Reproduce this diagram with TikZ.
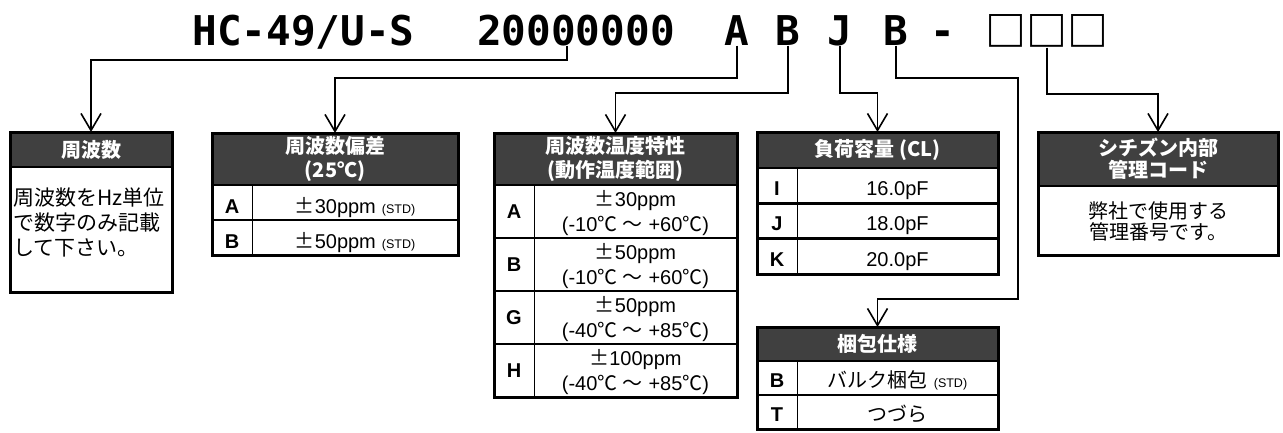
\documentclass[tikz,border=0pt]{standalone}
\usepackage{fontspec}
\setmainfont{Liberation Sans}
\newfontfamily\jp{Noto Sans CJK JP}
\newfontfamily\jpfw{Noto Sans CJK JP}[CharacterWidth=Full]
\newfontfamily\mono{DejaVu Sans Mono}
\usetikzlibrary{arrows.meta}
\definecolor{hdrgray}{RGB}{64,64,64}
\newcommand\myfs[2]{\fontsize{#1}{#2}\selectfont}
\newcommand\mypm{{\jpfw ±}}
\newcommand\mystd{\hspace{6pt}{\myfs{12.5}{13}(STD)}}
\newcommand\degc{{\jpfw ℃}}
\newcommand\wave{{\jpfw ～}}
\begin{document}
\begin{tikzpicture}[x=1pt,y=-1pt,
  frame/.style={draw, line width=3pt, inner sep=0pt, outer sep=0pt, anchor=north west},
  hdr/.style={fill=hdrgray, text=white, inner sep=0pt, outer sep=0pt, anchor=north west,
    font=\jp\bfseries\myfs{20}{24}, align=center},
  sep/.style={line width=2.5pt},
  colsep/.style={line width=1pt},
  letter/.style={font=\bfseries\myfs{20}{24}, inner sep=0pt, anchor=base},
  val/.style={font=\myfs{20}{24}, inner sep=0pt, anchor=base},
  valsm/.style={font=\myfs{20}{22}, inner sep=0pt, anchor=base},
  body/.style={font=\jp\myfs{21}{25}, inner sep=0pt, align=left},
  bodyc/.style={font=\jp\myfs{20}{21}, inner sep=0pt, align=center},
  conn/.style={line width=1.6pt, -{Straight Barb[length=17pt,width=20pt]}},
  ttl/.style={font=\mono\bfseries\myfs{41}{41}, inner sep=0pt, anchor=base}]
\useasboundingbox (0,0) rectangle (1283,432);

% ---------- title ----------
\node[ttl] (t1) at (303.5,45.5) {HC-49/U-S};
\node[ttl] (t2) at (576,45.5) {20000000};
\node[ttl] (tA) at (737,45.5) {A};
\node[ttl] (tB) at (788,45.5) {B};
\node[ttl] (tJ) at (840,45.5) {J};
\node[ttl] (tB2) at (896,45.5) {B};
\node[ttl] (tD) at (943,45.5) {-};
\node[ttl, font=\jp\bfseries\myfs{41}{41}] (tS) at (1047,46.5) {□□□};

% ---------- box 1 ----------
\node[hdr, minimum width=162pt, minimum height=35pt] (h1) at (10,132) {周波数};
\draw[sep] (h1.south west) -- (h1.south east);
\node[body, anchor=west] (x1) at (13,222) {周波数をHz単位\\で数字のみ記載\\して下さい。};
\node[frame, minimum width=162pt, minimum height=160pt] (b1) at (10,132) {};

% ---------- box 2 ----------
\node[hdr, minimum width=246pt, minimum height=52pt] (h2) at (212,133) {周波数偏差\\(25℃)};
\draw[sep] (h2.south west) -- (h2.south east);
\draw[sep] (212,220) -- (458,220);
\draw[colsep] (252,185) -- (252,255);
\node[letter] (l2a) at (232,213) {A};
\node[val] (v2a) at (355,213) {\mypm 30ppm\mystd};
\node[letter] (l2b) at (232,248) {B};
\node[val] (v2b) at (355,248) {\mypm 50ppm\mystd};
\node[frame, minimum width=246pt, minimum height=122pt] (b2) at (212,133) {};

% ---------- box 3 ----------
\node[hdr, minimum width=243pt, minimum height=52pt] (h3) at (494,133) {周波数温度特性\\(動作温度範囲)};
\draw[sep] (h3.south west) -- (h3.south east);
\draw[sep] (494,238) -- (737,238);
\draw[sep] (494,291) -- (737,291);
\draw[sep] (494,344) -- (737,344);
\draw[colsep] (534,185) -- (534,397);
\node[letter] (l3a) at (514,218) {A};
\node[val] (v3a) at (635.5,206) {\mypm 30ppm};
\node[valsm] (w3a) at (635.5,231) {(-10\degc{} \wave{} +60\degc)};
\node[letter] (l3b) at (514,271) {B};
\node[val] (v3b) at (635.5,259) {\mypm 50ppm};
\node[valsm] (w3b) at (635.5,284) {(-10\degc{} \wave{} +60\degc)};
\node[letter] (l3g) at (514,324) {G};
\node[val] (v3g) at (635.5,312) {\mypm 50ppm};
\node[valsm] (w3g) at (635.5,337) {(-40\degc{} \wave{} +85\degc)};
\node[letter] (l3h) at (514,377) {H};
\node[val] (v3h) at (635.5,365) {\mypm 100ppm};
\node[valsm] (w3h) at (635.5,390) {(-40\degc{} \wave{} +85\degc)};
\node[frame, minimum width=243pt, minimum height=264pt] (b3) at (494,133) {};

% ---------- box 4 ----------
\node[hdr, minimum width=241pt, minimum height=36pt] (h4) at (757,132) {負荷容量 (CL)};
\draw[sep] (h4.south west) -- (h4.south east);
\draw[sep] (757,203.3) -- (998,203.3);
\draw[sep] (757,238.7) -- (998,238.7);
\draw[colsep] (797,168) -- (797,274);
\node[letter] (l4i) at (777,195.3) {I};
\node[val] (v4i) at (897.5,195.3) {16.0pF};
\node[letter] (l4j) at (777,230.7) {J};
\node[val] (v4j) at (897.5,230.7) {18.0pF};
\node[letter] (l4k) at (777,266) {K};
\node[val] (v4k) at (897.5,266) {20.0pF};
\node[frame, minimum width=241pt, minimum height=142pt] (b4) at (757,132) {};

% ---------- box 5 ----------
\node[hdr, minimum width=241pt, minimum height=34pt] (h5) at (757,327) {梱包仕様};
\draw[sep] (h5.south west) -- (h5.south east);
\draw[sep] (757,395) -- (998,395);
\draw[colsep] (797,361) -- (797,429);
\node[letter] (l5b) at (777,387) {B};
\node[val] (v5b) at (897.5,387) {{\jp バルク梱包}\mystd};
\node[letter] (l5t) at (777,421) {T};
\node[val] (v5t) at (897.5,421) {{\jp つづら}};
\node[frame, minimum width=241pt, minimum height=102pt] (b5) at (757,327) {};

% ---------- box 6 ----------
\node[hdr, minimum width=240pt, minimum height=54pt, font=\jp\bfseries\myfs{20}{22}] (h6) at (1038,132) {シチズン内部\\管理コード};
\draw[sep] (h6.south west) -- (h6.south east);
\node[bodyc] (x6) at (1158,221) {弊社で使用する\\管理番号です。};
\node[frame, minimum width=240pt, minimum height=123pt] (b6) at (1038,132) {};

% ---------- connectors ----------
\coordinate (s20) at (567,45.5);
\coordinate (k1) at (567,60);
\coordinate (kA) at (737,78);
\coordinate (kB) at (788,93);
\coordinate (kJ) at (840,93);
\coordinate (kB2a) at (896,78);
\coordinate (kB2b) at (1018,78);
\coordinate (kB2c) at (1018,299);
\coordinate (kS) at (1047,94);
\draw[conn] (s20) -- (k1) -| (b1.north);
\draw[conn] (tA.south) -- (kA) -| (b2.north);
\draw[conn] (tB.south) -- (kB) -| (b3.north);
\draw[conn] (tJ.south) -- (kJ) -| (b4.north);
\draw[conn] (tB2.south) -- (kB2a) -- (kB2b) -- (kB2c) -| (b5.north);
\draw[conn] (tS.south) -- (kS) -| (b6.north);
\end{tikzpicture}
\end{document}
